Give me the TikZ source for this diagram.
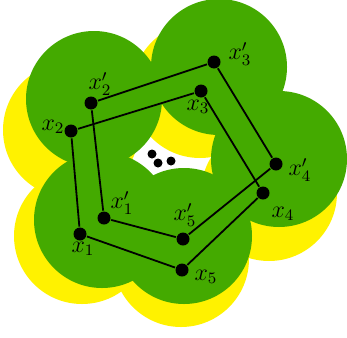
\documentclass[tikz,border=0pt]{standalone}
\usepackage{amsmath}
\usepackage{tikz}

\definecolor{leafgreen}{RGB}{68,170,0}

\begin{document}
\begin{tikzpicture}[x=0.5pt,y=-0.5pt,line width=0.9pt]
  \tikzstyle{vertex}=[circle,fill=black,minimum size=6.5pt,inner sep=0pt]
  \tikzstyle{smalldot}=[circle,fill=black,minimum size=4.5pt,inner sep=0pt]
  \tikzstyle{lbl}=[font=\large,inner sep=0pt]
  \useasboundingbox (0,0) rectangle (347,337);
  % yellow disks round the outer points
  \fill[yellow] (82,236) circle (34pt);
  \fill[yellow] (71,130) circle (34pt);
  \fill[yellow] (200,90) circle (34pt);
  \fill[yellow] (269,193) circle (34pt);
  \fill[yellow] (181,259) circle (34pt);
  % green disks round the inner points
  \fill[leafgreen] (102,220) circle (34pt);
  \fill[leafgreen] (94,99) circle (34pt);
  \fill[leafgreen] (219,67) circle (34pt);
  \fill[leafgreen] (279,159) circle (34pt);
  \fill[leafgreen] (184,236) circle (34pt);
  % outer pentagon
  \node[vertex] (X1) at (80,234)  {};
  \node[lbl] (L1) at (83,249) {$x_1$};
  \node[vertex] (X2) at (71,131)  {};
  \node[lbl] (L2) at (53,127) {$x_2$};
  \node[vertex] (X3) at (201,91)  {};
  \node[lbl] (L3) at (198,107) {$x_3$};
  \node[vertex] (X4) at (263,193) {};
  \node[lbl] (L4) at (283,214) {$x_4$};
  \node[vertex] (X5) at (182,270) {};
  \node[lbl] (L5) at (206,277) {$x_5$};
  % inner pentagon
  \node[vertex] (Y1) at (104,218) {};
  \node[lbl] (M1) at (122,203) {$x_1'$};
  \node[vertex] (Y2) at (91,103)  {};
  \node[lbl] (M2) at (100,84) {$x_2'$};
  \node[vertex] (Y3) at (214,62)  {};
  \node[lbl] (M3) at (240,54) {$x_3'$};
  \node[vertex] (Y4) at (276,164) {};
  \node[lbl] (M4) at (300,170) {$x_4'$};
  \node[vertex] (Y5) at (183,239) {};
  \node[lbl] (M5) at (185,215) {$x_5'$};
  % dots in the hole
  \node[smalldot] (D1) at (152,154) {};
  \node[smalldot] (D2) at (158,163) {};
  \node[smalldot] (D3) at (171,161) {};
  \draw (X1) -- (X2) -- (X3) -- (X4) -- (X5) -- (X1);
  \draw (Y1) -- (Y2) -- (Y3) -- (Y4) -- (Y5) -- (Y1);
\end{tikzpicture}
\end{document}
